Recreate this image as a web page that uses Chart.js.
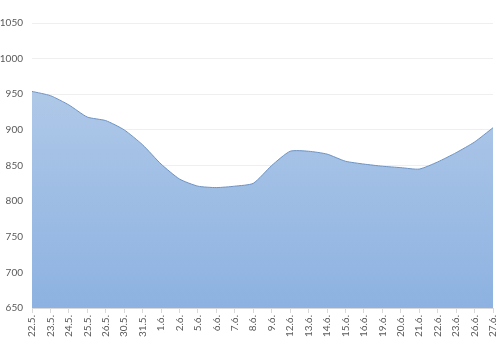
<!DOCTYPE html>
<html>
<head>
<meta charset="utf-8">
<script src="https://cdn.jsdelivr.net/npm/chart.js@4"></script>
<style>
  html, body { margin: 0; padding: 0; background: #fff; }
  #wrap { width: 500px; height: 350px; }
</style>
</head>
<body>
<div id="wrap"><canvas id="chart"></canvas></div>
<script>
const labels = ['22.5.', '23.5.', '24.5.', '25.5.', '26.5.', '30.5.', '31.5.', '1.6.', '2.6.', '5.6.', '6.6.', '7.6.', '8.6.',
    '9.6.', '12.6.', '13.6.', '14.6.', '15.6.', '16.6.', '19.6.', '20.6.', '21.6.', '22.6.', '23.6.', '26.6.', '27.6.'];
const values = [954, 948, 935, 918, 913, 900, 879, 852, 831, 821, 819, 821, 825,
    850, 870, 870, 866, 856, 852, 849, 847, 845, 855, 868, 883, 903];
const yMin = 650, yMax = 1050, yStep = 50;

function areaFill(context) {
    const { ctx, chartArea } = context.chart;
    if (!chartArea) return '#a4c0e4';
    const g = ctx.createLinearGradient(0, chartArea.top, 0, chartArea.bottom);
    g.addColorStop(0, '#b9cfea');
    g.addColorStop(1, '#8db2e1');
    return g;
}

new Chart(document.getElementById('chart'), {
    type: 'line',
    data: {
        labels,
        datasets: [{
            data: values,
            fill: 'start',
            backgroundColor: areaFill,
            borderColor: '#6f93c2',
            borderWidth: 1,
            pointRadius: 0,
            tension: 0.2
        }]
    },
    options: {
        responsive: true,
        maintainAspectRatio: false,
        animation: false,
        layout: { padding: { top: 23, right: 7, left: 0, bottom: 0 } },
        plugins: { legend: { display: false }, tooltip: { enabled: false } },
        scales: {
            x: {
                offset: false,
                grid: { drawOnChartArea: false, drawTicks: true, tickLength: 5, color: '#d9d9d9' },
                border: { color: '#d9d9d9' },
                ticks: {
                    autoSkip: false, maxRotation: 90, minRotation: 90,
                    color: '#595959', font: { family: 'Lato', size: 10 }, padding: 2
                },
                afterFit: s => { s.height = 42; s.paddingRight = 0; s.paddingLeft = 0; }
            },
            y: {
                min: yMin, max: yMax,
                grid: { color: '#efefef', drawTicks: false },
                border: { display: false },
                ticks: {
                    stepSize: yStep, color: '#595959', font: { family: 'Lato', size: 10 }, padding: 9,
                    callback: v => String(v)
                },
                afterFit: s => { s.width = 32; }
            }
        }
    }
});
</script>
</body>
</html>
